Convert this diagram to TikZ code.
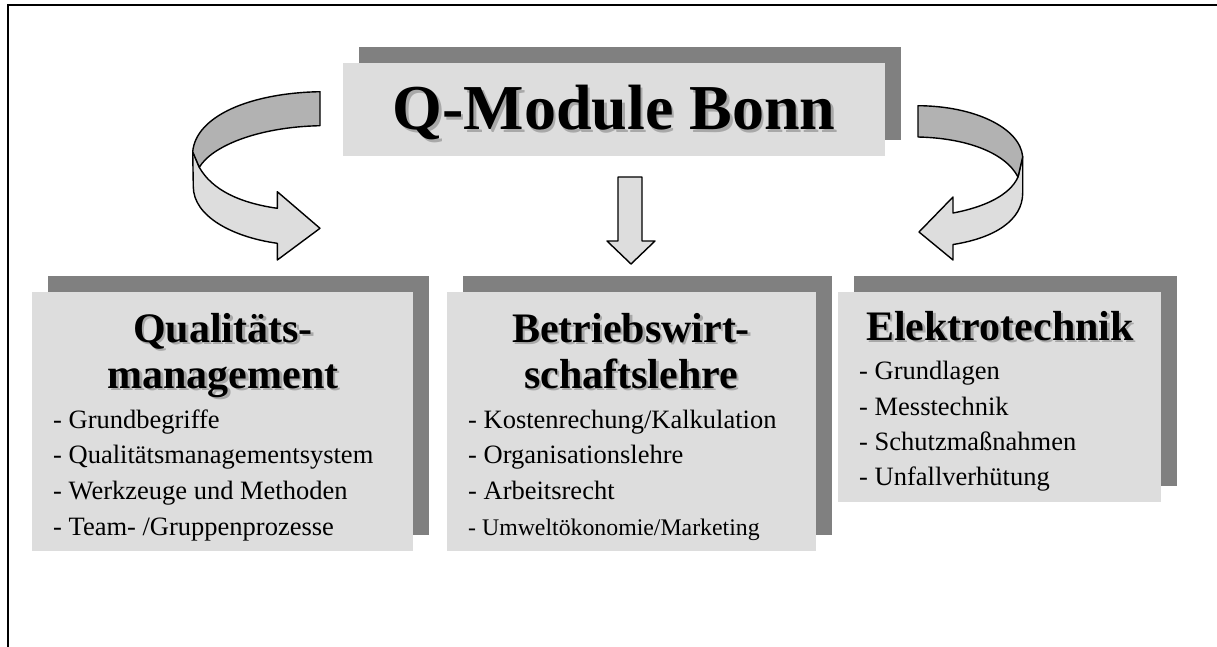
\documentclass[tikz,border=0pt]{standalone}
\usepackage{fontspec}
\setmainfont{Liberation Serif}
\definecolor{boxgray}{HTML}{DDDDDD}
\definecolor{shadowgray}{HTML}{808080}
\definecolor{darkband}{HTML}{B2B2B2}
\definecolor{txtshadow}{HTML}{A8A8A8}
\newcommand\ShText[4]{%
  \node[#1, text=txtshadow, xshift=2.5pt, yshift=-2.5pt] (#2-sh) at #3 {#4};
  \node[#1] (#2) at #3 {#4};}
\begin{document}
\begin{tikzpicture}[x=1pt,y=-1pt,
  backbox/.style={fill=shadowgray},
  frontbox/.style={fill=boxgray},
  titletext/.style={font=\bfseries\fontsize{64}{70}\selectfont, anchor=base, inner sep=0pt},
  headtext/.style={font=\bfseries\fontsize{42}{48}\selectfont, anchor=base, inner sep=0pt},
  itemtext/.style={font=\fontsize{26.5}{30}\selectfont, anchor=base west, inner sep=0pt},
  smallitem/.style={font=\fontsize{23.8}{27}\selectfont, anchor=base west, inner sep=0pt},
  arrowline/.style={draw=black, line width=1.4pt, line join=round},
]
\useasboundingbox (0,0) rectangle (1217,647);
\fill[white] (0,0) rectangle (1217,647);
% frame
\draw[line width=2pt] (8,648) -- (8,5) -- (1218,5);

% title box
\fill[backbox] (359,47) rectangle (901,140);
\fill[frontbox] (343,63) rectangle (885,156);
\ShText{titletext}{title}{(614,130)}{Q-Module Bonn}

% left box
\fill[backbox] (48,276) rectangle (429,535);
\fill[frontbox] (32,292) rectangle (413,551);
\ShText{headtext}{qm1}{(223,342)}{Qualitäts-}
\ShText{headtext}{qm2}{(223,388)}{management}
\node[itemtext] (l1) at (53,428) {- Grundbegriffe};
\node[itemtext] (l2) at (53,463) {- Qualitätsmanagementsystem};
\node[itemtext] (l3) at (53,499) {- Werkzeuge und Methoden};
\node[itemtext] (l4) at (53,535) {- Team- /Gruppenprozesse};

% middle box
\fill[backbox] (463,276) rectangle (832,535);
\fill[frontbox] (447,292) rectangle (816,551);
\ShText{headtext}{bw1}{(631,342)}{Betriebswirt-}
\ShText{headtext}{bw2}{(631,388)}{schaftslehre}
\node[itemtext] (m1) at (468,428) {- Kostenrechung/Kalkulation};
\node[itemtext] (m2) at (468,463) {- Organisationslehre};
\node[itemtext] (m3) at (468,499) {- Arbeitsrecht};
\node[smallitem] (m4) at (468,535) {- Umweltökonomie/Marketing};

% right box
\fill[backbox] (854,276) rectangle (1177,486);
\fill[frontbox] (838,292) rectangle (1161,502);
\ShText{headtext}{et}{(1000,340)}{Elektrotechnik}
\node[itemtext] (r1) at (859,379) {- Grundlagen};
\node[itemtext] (r2) at (859,415) {- Messtechnik};
\node[itemtext] (r3) at (859,450) {- Schutzmaßnahmen};
\node[itemtext] (r4) at (859,485) {- Unfallverhütung};

% centre arrow
\filldraw[arrowline, fill=boxgray] (618,177) -- (642,177) -- (642,241) -- (655,241)
  -- (631,264) -- (607,241) -- (618,241) -- cycle;

% left curved arrow: front (light) part
\filldraw[arrowline, fill=boxgray] (192.7,151.7) -- (193.3,186.7)
  .. controls (193.3,216) and (232,237) .. (277.3,243.3)
  -- (277.3,260) -- (320,228.3) -- (277.3,191.7) -- (277.3,208.3)
  .. controls (240,203) and (212,190) .. (199.3,167.3) -- cycle;
% left curved arrow: back (dark) part
\filldraw[arrowline, fill=darkband] (320,91.7)
  .. controls (250,93) and (196,116) .. (192.7,151.7)
  -- (199.3,167.3)
  .. controls (212,146) and (258,127) .. (320,125.7) -- cycle;

% right curved arrow: front (light) part
\filldraw[arrowline, fill=boxgray] (1022.7,156.7) -- (1022.7,193)
  .. controls (1022.7,220) and (995,238) .. (953,244.5)
  -- (953,260) -- (919,232) -- (953,197) -- (953,213)
  .. controls (985,207) and (1010,195) .. (1018,177) -- cycle;
% right curved arrow: back (dark) part
\filldraw[arrowline, fill=darkband] (918,105.7)
  .. controls (975,106) and (1020,128) .. (1022.7,156.7)
  -- (1018,177)
  .. controls (1005,152) and (965,138) .. (918,137) -- cycle;
\end{tikzpicture}
\end{document}
